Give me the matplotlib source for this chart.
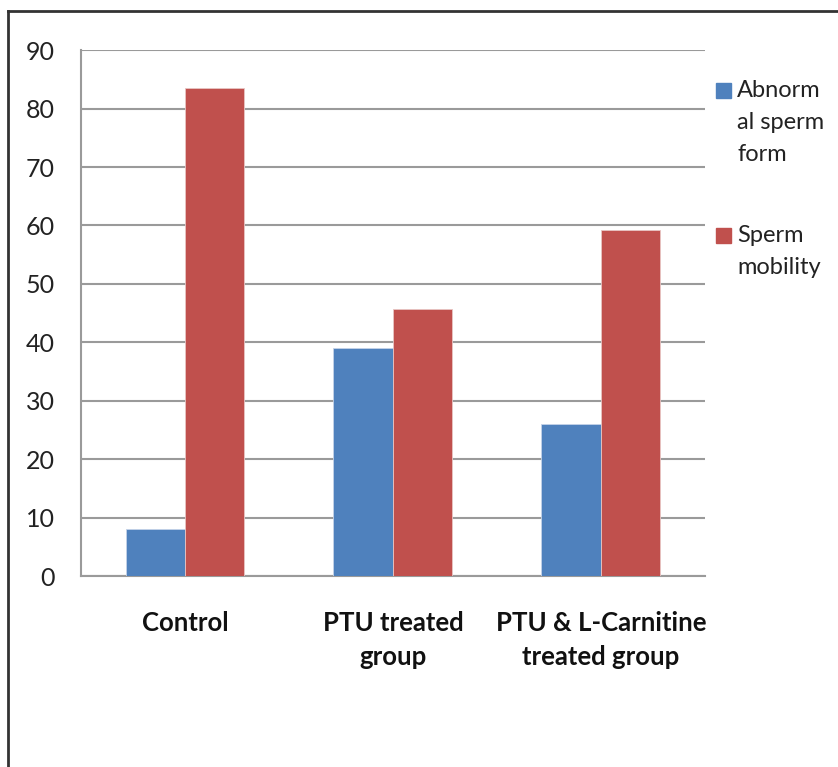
import matplotlib
matplotlib.use('Agg')
import matplotlib.pyplot as plt
from matplotlib.lines import Line2D
from matplotlib.patches import Rectangle
import numpy as np

# data
groups = ["Control", "PTU treated\ngroup", "PTU & L-Carnitine\ntreated group"]
abnormal_form = [8.1, 39.0, 26.1]
sperm_mobility = [83.5, 45.7, 59.3]
series_labels = ["Abnorm\nal sperm\nform", "Sperm\nmobility"]
series_colors = ["#4F81BD", "#C0504D"]
yticks = [0, 10, 20, 30, 40, 50, 60, 70, 80, 90]

plt.rcParams['font.family'] = ['Lato', 'DejaVu Sans']

fig = plt.figure(figsize=(8.38, 7.67), dpi=100)
ax = fig.add_axes([0.0967, 0.2484, 0.7443, 0.6864])

x = np.arange(len(groups))
width = 1 / 3.5
ax.bar(x - width / 2, abnormal_form, width, color=series_colors[0],
       edgecolor="#c5d3e8", linewidth=0.6, zorder=3)
ax.bar(x + width / 2, sperm_mobility, width, color=series_colors[1],
       edgecolor="#e8c5c4", linewidth=0.6, zorder=3)

ax.set_xlim(-0.5, len(groups) - 0.5)
ax.set_ylim(0, 90)
ax.set_yticks(yticks)
ax.set_xticks(x)
ax.set_xticklabels(groups, fontweight="bold", fontsize=18.5, linespacing=1.5)
ax.tick_params(axis="y", length=0, pad=19, labelsize=18, labelcolor="#222222")
ax.tick_params(axis="x", length=0, pad=25, labelcolor="#111111")
ax.yaxis.grid(True, color="#9a9a9a", linewidth=1.5, zorder=0)

for side in ["top", "right"]:
    ax.spines[side].set_visible(False)
for side in ["left", "bottom"]:
    ax.spines[side].set_color("#9a9a9a")
    ax.spines[side].set_linewidth(1.5)

# legend drawn by hand so the wrapped labels sit like the original
W, H = 838, 767
legend_tops = [83, 228]
for label, color, top in zip(series_labels, series_colors, legend_tops):
    fig.add_artist(Rectangle((716 / W, 1 - (top + 15) / H), 15 / W, 15 / H,
                             transform=fig.transFigure, color=color))
    fig.text(737 / W, 1 - (top - 3) / H, label, ha="left", va="top",
             fontsize=17, color="#222222", linespacing=1.65)

# outer frame (top and left edges only, as in the screenshot)
fig.add_artist(Line2D([8 / W, 1], [1 - 11 / H, 1 - 11 / H],
                      transform=fig.transFigure, color="#333333", linewidth=2))
fig.add_artist(Line2D([8 / W, 8 / W], [0, 1 - 11 / H],
                      transform=fig.transFigure, color="#333333", linewidth=2))

fig.savefig("out.png", dpi=100)
